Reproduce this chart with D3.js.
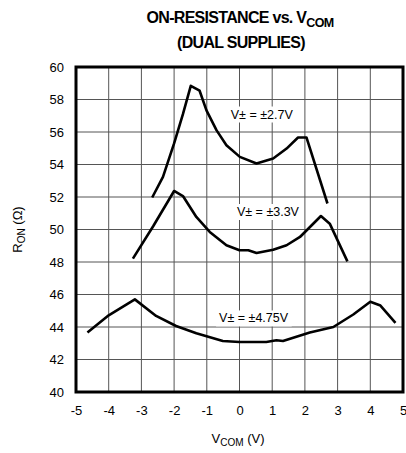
<!DOCTYPE html>
<html>
<head>
<meta charset="utf-8">
<script src="https://cdn.jsdelivr.net/npm/d3@7"></script>
<style>
  body { margin: 0; background: #fff; }
  text { font-family: "Liberation Sans", Arial, sans-serif; fill: #000; }
  .title { font-weight: bold; font-size: 16px; letter-spacing: -0.7px; }
  .axis-label { font-size: 13px; }
  .curve-label { font-size: 12.5px; }
</style>
</head>
<body>
<div id="chart"></div>
<script>
// x values (V_COM) and R_ON values for each supply
const vcom27 = [-2.67, -2.34, -2.0, -1.73, -1.49, -1.22, -1.01, -0.70, -0.40, 0.01, 0.52, 1.03, 1.44, 1.79, 2.05, 2.69];
const ron27  = [51.97, 53.24, 55.3, 57.1, 58.84, 58.54, 57.33, 56.1, 55.19, 54.47, 54.06, 54.37, 54.98, 55.66, 55.66, 51.6];

const vcom33 = [-3.26, -2.64, -2.0, -1.73, -1.32, -0.91, -0.40, 0.0, 0.27, 0.52, 1.03, 1.44, 1.85, 2.49, 2.76, 3.30];
const ron33  = [48.21, 50.2, 52.37, 52.06, 50.77, 49.85, 49.03, 48.72, 48.72, 48.55, 48.76, 49.03, 49.54, 50.83, 50.36, 48.04];

const vcom475 = [-4.65, -4.0, -3.2, -2.55, -1.94, -1.32, -0.51, 0.0, 0.82, 1.13, 1.33, 2.15, 2.87, 3.48, 4.0, 4.31, 4.77];
const ron475  = [43.66, 44.72, 45.7, 44.68, 44.06, 43.61, 43.14, 43.08, 43.08, 43.18, 43.14, 43.66, 44.0, 44.77, 45.55, 45.32, 44.26];

const xTicks = [-5, -4, -3, -2, -1, 0, 1, 2, 3, 4, 5];
const yTicks = [40, 42, 44, 46, 48, 50, 52, 54, 56, 58, 60];

const labels = [
  {text: 'V\u00B1 = \u00B12.7V', x: 0.68, y: 57.1},
  {text: 'V\u00B1 = \u00B13.3V', x: 0.87, y: 51.1},
  {text: 'V\u00B1 = \u00B14.75V', x: 0.43, y: 44.55}
];

const width = 406, height = 453;
const margin = {top: 67, right: 3, bottom: 61, left: 76};
const innerW = width - margin.left - margin.right;
const innerH = height - margin.top - margin.bottom;

const svg = d3.select('#chart').append('svg')
    .attr('width', width)
    .attr('height', height);

const chart = svg.append('g')
    .attr('transform', `translate(${margin.left},${margin.top})`);

const xScale = d3.scaleLinear().domain([-5, 5]).range([0, innerW]);
const yScale = d3.scaleLinear().domain([40, 60]).range([innerH, 0]);

// grid
chart.append('g')
    .selectAll('line')
    .data(xTicks.slice(1, -1))
    .join('line')
    .attr('x1', d => xScale(d)).attr('x2', d => xScale(d))
    .attr('y1', 0).attr('y2', innerH)
    .attr('stroke', '#555').attr('stroke-width', 1);

chart.append('g')
    .selectAll('line')
    .data(yTicks.slice(1, -1))
    .join('line')
    .attr('y1', d => yScale(d)).attr('y2', d => yScale(d))
    .attr('x1', 0).attr('x2', innerW)
    .attr('stroke', '#555').attr('stroke-width', 1);

// curves
const series = [
  [vcom27, ron27],
  [vcom33, ron33],
  [vcom475, ron475]
];
const line = d3.line().x(d => xScale(d[0])).y(d => yScale(d[1]));

chart.selectAll('.curve')
    .data(series.map(s => s[0].map((v, i) => [v, s[1][i]])))
    .join('path')
    .attr('class', 'curve')
    .attr('d', line)
    .attr('fill', 'none')
    .attr('stroke', '#000')
    .attr('stroke-width', 2.6)
    .attr('stroke-linejoin', 'round');

// curve labels with white boxes
const lg = chart.selectAll('.lbl')
    .data(labels)
    .join('g')
    .attr('class', 'lbl')
    .attr('transform', d => `translate(${xScale(d.x)},${yScale(d.y)})`);

lg.append('text')
    .attr('class', 'curve-label')
    .attr('text-anchor', 'middle')
    .attr('dy', '0.35em')
    .text(d => d.text);

lg.each(function() {
  const g = d3.select(this);
  const bb = g.select('text').node().getBBox();
  g.insert('rect', 'text')
      .attr('x', bb.x - 3).attr('y', bb.y - 1)
      .attr('width', bb.width + 6).attr('height', bb.height + 2)
      .attr('fill', '#fff');
});

// frame
chart.append('rect')
    .attr('x', 0).attr('y', 0)
    .attr('width', innerW).attr('height', innerH)
    .attr('fill', 'none')
    .attr('stroke', '#000')
    .attr('stroke-width', 3);

// axes (labels only)
const xAxis = d3.axisBottom(xScale).tickValues(xTicks).tickFormat(d => String(d)).tickSize(0).tickPadding(14);
const yAxis = d3.axisLeft(yScale).tickValues(yTicks).tickFormat(d => String(d)).tickSize(0).tickPadding(12);

const xAxisG = chart.append('g')
    .attr('transform', `translate(0,${innerH})`)
    .call(xAxis);
const yAxisG = chart.append('g').call(yAxis);
xAxisG.select('.domain').remove();
yAxisG.select('.domain').remove();
chart.selectAll('.tick text')
    .style('font-family', '"Liberation Sans", Arial, sans-serif')
    .style('font-size', '13px');

// axis titles
const xl = svg.append('text')
    .attr('class', 'axis-label')
    .attr('x', 238).attr('y', 443)
    .attr('text-anchor', 'middle');
xl.append('tspan').text('V');
xl.append('tspan').attr('dy', 3).style('font-size', '10px').text('COM');
xl.append('tspan').attr('dy', -3).text(' (V)');

const yl = svg.append('text')
    .attr('class', 'axis-label')
    .attr('transform', `translate(22,${margin.top + innerH / 2}) rotate(-90)`)
    .attr('text-anchor', 'middle');
yl.append('tspan').text('R');
yl.append('tspan').attr('dy', 3).style('font-size', '10px').text('ON');
yl.append('tspan').attr('dy', -3).text(' (\u03A9)');

// title
const t1 = svg.append('text')
    .attr('class', 'title')
    .attr('x', 240).attr('y', 23)
    .attr('text-anchor', 'middle');
t1.append('tspan').text('ON-RESISTANCE vs. V');
t1.append('tspan').attr('dy', 4).style('font-size', '12.5px').text('COM');

svg.append('text')
    .attr('class', 'title')
    .attr('x', 241).attr('y', 48)
    .attr('text-anchor', 'middle')
    .text('(DUAL SUPPLIES)');
</script>
</body>
</html>
